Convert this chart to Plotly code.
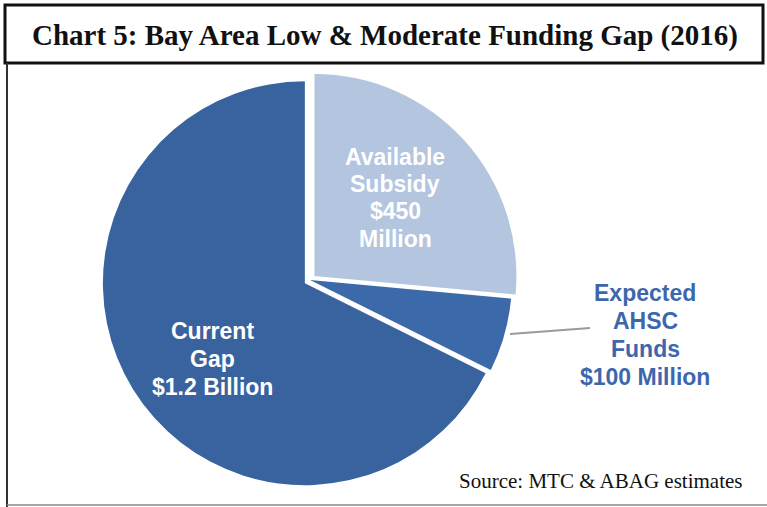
import plotly.graph_objects as go

# ---- data ----
categories = ["Available Subsidy", "Expected AHSC Funds", "Current Gap"]
values_musd = [450, 100, 1150]          # slice sizes ($ million)
slice_labels = [
    ["Available", "Subsidy", "$450", "Million"],
    ["Expected", "AHSC", "Funds", "$100 Million"],
    ["Current", "Gap", "$1.2 Billion"],
]
title_text = "Chart 5: Bay Area Low & Moderate Funding Gap (2016)"
source_text = "Source: MTC & ABAG estimates"

# ---- styles ----
W, H = 767, 507
colors = ["#b3c5df", "#3b69aa", "#38639e"]
pulls = [0.03, 0, 0.03]

def px(x):
    return x / W

def py(y):
    return 1 - y / H

# pie geometry: centre (310, 280), radius ~202 px
cx, cy, half = 310, 280, 208
fig = go.Figure(go.Pie(
    labels=categories,
    values=values_musd,
    sort=False,
    direction="clockwise",
    rotation=0,
    pull=pulls,
    marker=dict(colors=colors, line=dict(width=0)),
    textinfo="none",
    hoverinfo="label+value",
    showlegend=False,
    domain=dict(x=[(cx - half) / W, (cx + half) / W],
                y=[(H - cy - half) / H, (H - cy + half) / H]),
))

annotations = []
# title
annotations.append(dict(x=px(385), y=py(35), xref="paper", yref="paper",
                        text="<b>" + title_text + "</b>", showarrow=False,
                        font=dict(family="Liberation Serif", size=29, color="#111"),
                        xanchor="center", yanchor="middle"))
# source
annotations.append(dict(x=px(744), y=py(481), xref="paper", yref="paper",
                        text=source_text, showarrow=False,
                        font=dict(family="Liberation Serif", size=21, color="#111"),
                        xanchor="right", yanchor="middle"))

label_pos = [
    (395, [157, 184, 211, 239], "white"),
    (645, [293, 321, 349, 377], "#3d67ad"),
    (212, [331, 359, 387], "white"),
]
for lines, (lx, ys, col) in zip(slice_labels, label_pos):
    for t, yy in zip(lines, ys):
        annotations.append(dict(x=px(lx), y=py(yy), xref="paper", yref="paper",
                                text="<b>" + t + "</b>", showarrow=False,
                                font=dict(family="Liberation Sans", size=23, color=col),
                                xanchor="center", yanchor="middle"))

shapes = [
    # title box
    dict(type="rect", xref="paper", yref="paper", x0=px(5), x1=px(763), y0=py(5), y1=py(63),
         line=dict(color="#111", width=3), fillcolor="rgba(0,0,0,0)"),
    # chart frame left
    dict(type="line", xref="paper", yref="paper", x0=px(7), x1=px(7), y0=py(63), y1=py(507),
         line=dict(color="#333", width=2)),
    # chart frame bottom
    dict(type="line", xref="paper", yref="paper", x0=px(7), x1=px(767), y0=py(505), y1=py(505),
         line=dict(color="#888", width=1.5)),
    # leader line to AHSC label
    dict(type="line", xref="paper", yref="paper", x0=px(510), x1=px(590), y0=py(334), y1=py(328),
         line=dict(color="#9a9a9a", width=2)),
]

fig.update_layout(
    width=W, height=H,
    margin=dict(l=0, r=0, t=0, b=0),
    paper_bgcolor="white", plot_bgcolor="white",
    annotations=annotations,
    shapes=shapes,
)

fig.write_html("out.html",
               config={"displayModeBar": False},
               post_script="document.body.style.margin='0';document.body.style.padding='0';")
